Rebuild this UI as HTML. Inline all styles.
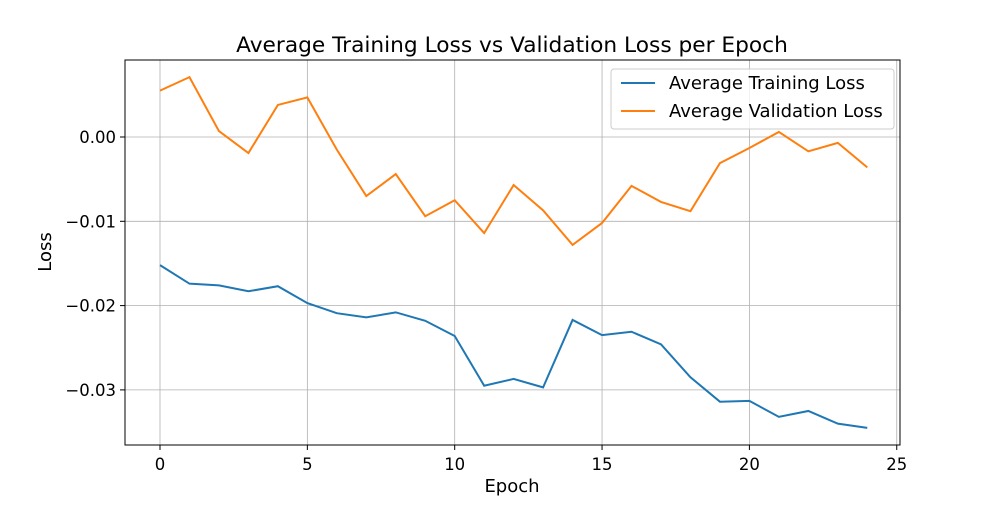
<!DOCTYPE html>
<html><head><meta charset="utf-8"><style>
body{margin:0;background:#fff}
svg text{font-family:"DejaVu Sans","Liberation Sans",sans-serif;fill:#000}
</style></head><body>
<svg id="chart" width="1000" height="500" xmlns="http://www.w3.org/2000/svg">
<rect width="1000" height="500" fill="#fff"/>
<text x="512" y="52" font-size="21.7" text-anchor="middle">Average Training Loss vs Validation Loss per Epoch</text>
<g id="grid"></g>
<g id="ticks"></g>
<g id="lines"></g>
<rect x="125" y="60" width="775" height="385" fill="none" stroke="#000" stroke-width="1"/>
<text x="512" y="492" font-size="18" text-anchor="middle">Epoch</text>
<text transform="translate(51,252) rotate(-90)" font-size="18" text-anchor="middle">Loss</text>
<g>
<rect x="611" y="69" width="283" height="60" rx="3" fill="#fff" fill-opacity="0.8" stroke="#ccc"/>
<line x1="621" y1="83" x2="655" y2="83" stroke="#1f77b4" stroke-width="2"/>
<text x="669" y="89" font-size="18">Average Training Loss</text>
<line x1="621" y1="111" x2="655" y2="111" stroke="#ff7f0e" stroke-width="2"/>
<text x="669" y="117" font-size="18">Average Validation Loss</text>
</g>
</svg>
<script>
const epochs=[0,1,2,3,4,5,6,7,8,9,10,11,12,13,14,15,16,17,18,19,20,21,22,23,24];
const trainLoss=[-0.0152,-0.0174,-0.0176,-0.0183,-0.0177,-0.0197,-0.0209,-0.0214,-0.0208,-0.0218,-0.0236,-0.0295,-0.0287,-0.0297,-0.0217,-0.0235,-0.0231,-0.0246,-0.0285,-0.0314,-0.0313,-0.0332,-0.0325,-0.0340,-0.0345];
const valLoss=[0.0055,0.0071,0.0007,-0.0019,0.0038,0.0047,-0.0015,-0.0070,-0.0044,-0.0094,-0.0075,-0.0114,-0.0057,-0.0087,-0.0128,-0.0102,-0.0058,-0.0077,-0.0088,-0.0031,-0.0013,0.0006,-0.0017,-0.0007,-0.0036];
const xTicks=[0,5,10,15,20,25];
const yTicks=[0,-0.01,-0.02,-0.03];
const yTickLabels=["0.00","\u22120.01","\u22120.02","\u22120.03"];
const NS="http://www.w3.org/2000/svg";
const X=v=>160+v*29.47;
const Y=v=>137-v*8430;
function mk(tag,attrs,parent){const e=document.createElementNS(NS,tag);for(const k in attrs)e.setAttribute(k,attrs[k]);parent.appendChild(e);return e;}
const grid=document.getElementById('grid'),ticks=document.getElementById('ticks'),lines=document.getElementById('lines');
xTicks.forEach(t=>{
 const g=mk('line',{x1:X(t),x2:X(t),y1:60,y2:445,stroke:'#b0b0b0','stroke-width':0.8},grid);
 
 
 const tk=mk('line',{x1:X(t),x2:X(t),y1:445,y2:450,stroke:'#000'},ticks);
 
 
 const tx=mk('text',{x:X(t),y:470,'font-size':16.5,'text-anchor':'middle'},ticks);
 tx.textContent=t;
 
 
});
yTicks.forEach((t,i)=>{
 const g=mk('line',{x1:125,x2:900,y1:Y(t),y2:Y(t),stroke:'#b0b0b0','stroke-width':0.8},grid);
 
 
 const tk=mk('line',{x1:120,x2:125,y1:Y(t),y2:Y(t),stroke:'#000'},ticks);
 
 
 const tx=mk('text',{x:116,y:Y(t)+6,'font-size':16.5,'text-anchor':'end'},ticks);
 tx.textContent=yTickLabels[i];
 
 
});
function series(vals,color,name){
 const p=mk('polyline',{points:vals.map((v,i)=>X(epochs[i])+','+Y(v)).join(' '),fill:'none',stroke:color,'stroke-width':2},lines);
 
 
}
series(trainLoss,'#1f77b4','training-loss-line');
series(valLoss,'#ff7f0e','validation-loss-line');
</script>
</body></html>
